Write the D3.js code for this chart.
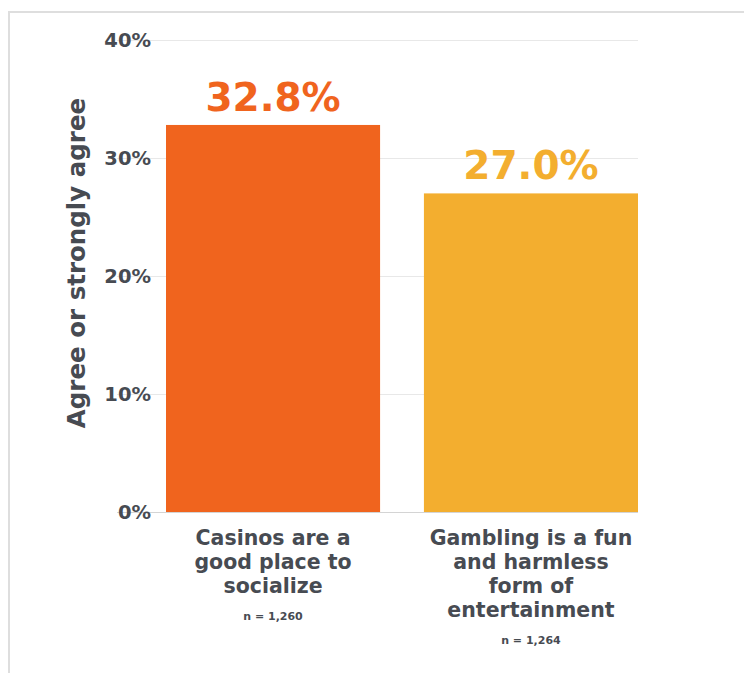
<!DOCTYPE html>
<html>
<head>
<meta charset="utf-8">
<script src="https://cdn.jsdelivr.net/npm/d3@7"></script>
<style>
  html, body { margin: 0; padding: 0; background: #fff; }
  svg { display: block; }
  text { font-family: "DejaVu Sans", "Open Sans", sans-serif; font-weight: 700; }
</style>
</head>
<body>
<script>
// Survey results: share who agree or strongly agree
const categories = ["Casinos are a good place to socialize", "Gambling is a fun and harmless form of entertainment"];
const categoryLines = [
  ["Casinos are a", "good place to", "socialize"],
  ["Gambling is a fun", "and harmless", "form of", "entertainment"]
];
const values = [32.8, 27.0];
const sampleSizes = ["n = 1,260", "n = 1,264"];
const barColors = ["#f0641e", "#f3ae2f"];
const yTicks = [0, 10, 20, 30, 40];
const yTitle = "Agree or strongly agree";

const W = 744, H = 673;
const svg = d3.select("body").append("svg").attr("width", W).attr("height", H);

// light frame along the top and left edges
svg.append("path")
  .attr("d", `M9,${H} V12 H${W}`)
  .attr("fill", "none").attr("stroke", "#dedede").attr("stroke-width", 2);

const plot = { left: 117, right: 638, top: 40, bottom: 512 };

const y = d3.scaleLinear().domain([0, 40]).range([plot.bottom, plot.top]);
const x = d3.scaleBand().domain(categories).range([166, 638]).paddingInner(0.17).paddingOuter(0);

// horizontal gridlines
svg.append("g").selectAll("line").data(yTicks).join("line")
  .attr("x1", plot.left).attr("x2", plot.right)
  .attr("y1", d => y(d) + 0.5).attr("y2", d => y(d) + 0.5)
  .attr("stroke", d => d === 0 ? "#d4d4d4" : "#e8e8e8").attr("stroke-width", 1);

// y axis tick labels
const yAxis = d3.axisLeft(y).tickValues(yTicks).tickFormat(d => d + "%").tickSize(0).tickPadding(0);
const gy = svg.append("g").attr("transform", "translate(151,0)").call(yAxis);
gy.select(".domain").remove();
gy.selectAll("text")
  .attr("fill", "#474b52").attr("font-size", 19.5).attr("font-weight", 700)
  .style("font-family", "\"DejaVu Sans\", sans-serif");

// y axis title
svg.append("text")
  .attr("transform", `translate(85,${263}) rotate(-90)`)
  .attr("text-anchor", "middle")
  .attr("fill", "#474b52").attr("font-size", 24.5)
  .text(yTitle);

// bars
svg.append("g").selectAll("rect").data(values).join("rect")
  .attr("x", (d, i) => x(categories[i]))
  .attr("width", x.bandwidth())
  .attr("y", d => y(d))
  .attr("height", d => y(0) - y(d))
  .attr("fill", (d, i) => barColors[i]);

// value labels above bars
svg.append("g").selectAll("text").data(values).join("text")
  .attr("x", (d, i) => x(categories[i]) + x.bandwidth() / 2)
  .attr("y", d => y(d) - 14)
  .attr("text-anchor", "middle")
  .attr("fill", (d, i) => barColors[i])
  .attr("font-size", 39)
  .text(d => d.toFixed(1) + "%");

// category labels with sample sizes
const lineH = 24;
categoryLines.forEach((lines, i) => {
  const cx = x(categories[i]) + x.bandwidth() / 2;
  const g = svg.append("g");
  lines.forEach((ln, j) => {
    g.append("text")
      .attr("x", cx).attr("y", 545 + j * lineH)
      .attr("text-anchor", "middle")
      .attr("fill", "#474b52").attr("font-size", 20.5)
      .text(ln);
  });
  g.append("text")
    .attr("x", cx).attr("y", 545 + (lines.length - 1) * lineH + 26.5)
    .attr("text-anchor", "middle")
    .attr("fill", "#474b52").attr("font-size", 11)
    .text(sampleSizes[i]);
});
</script>
</body>
</html>
